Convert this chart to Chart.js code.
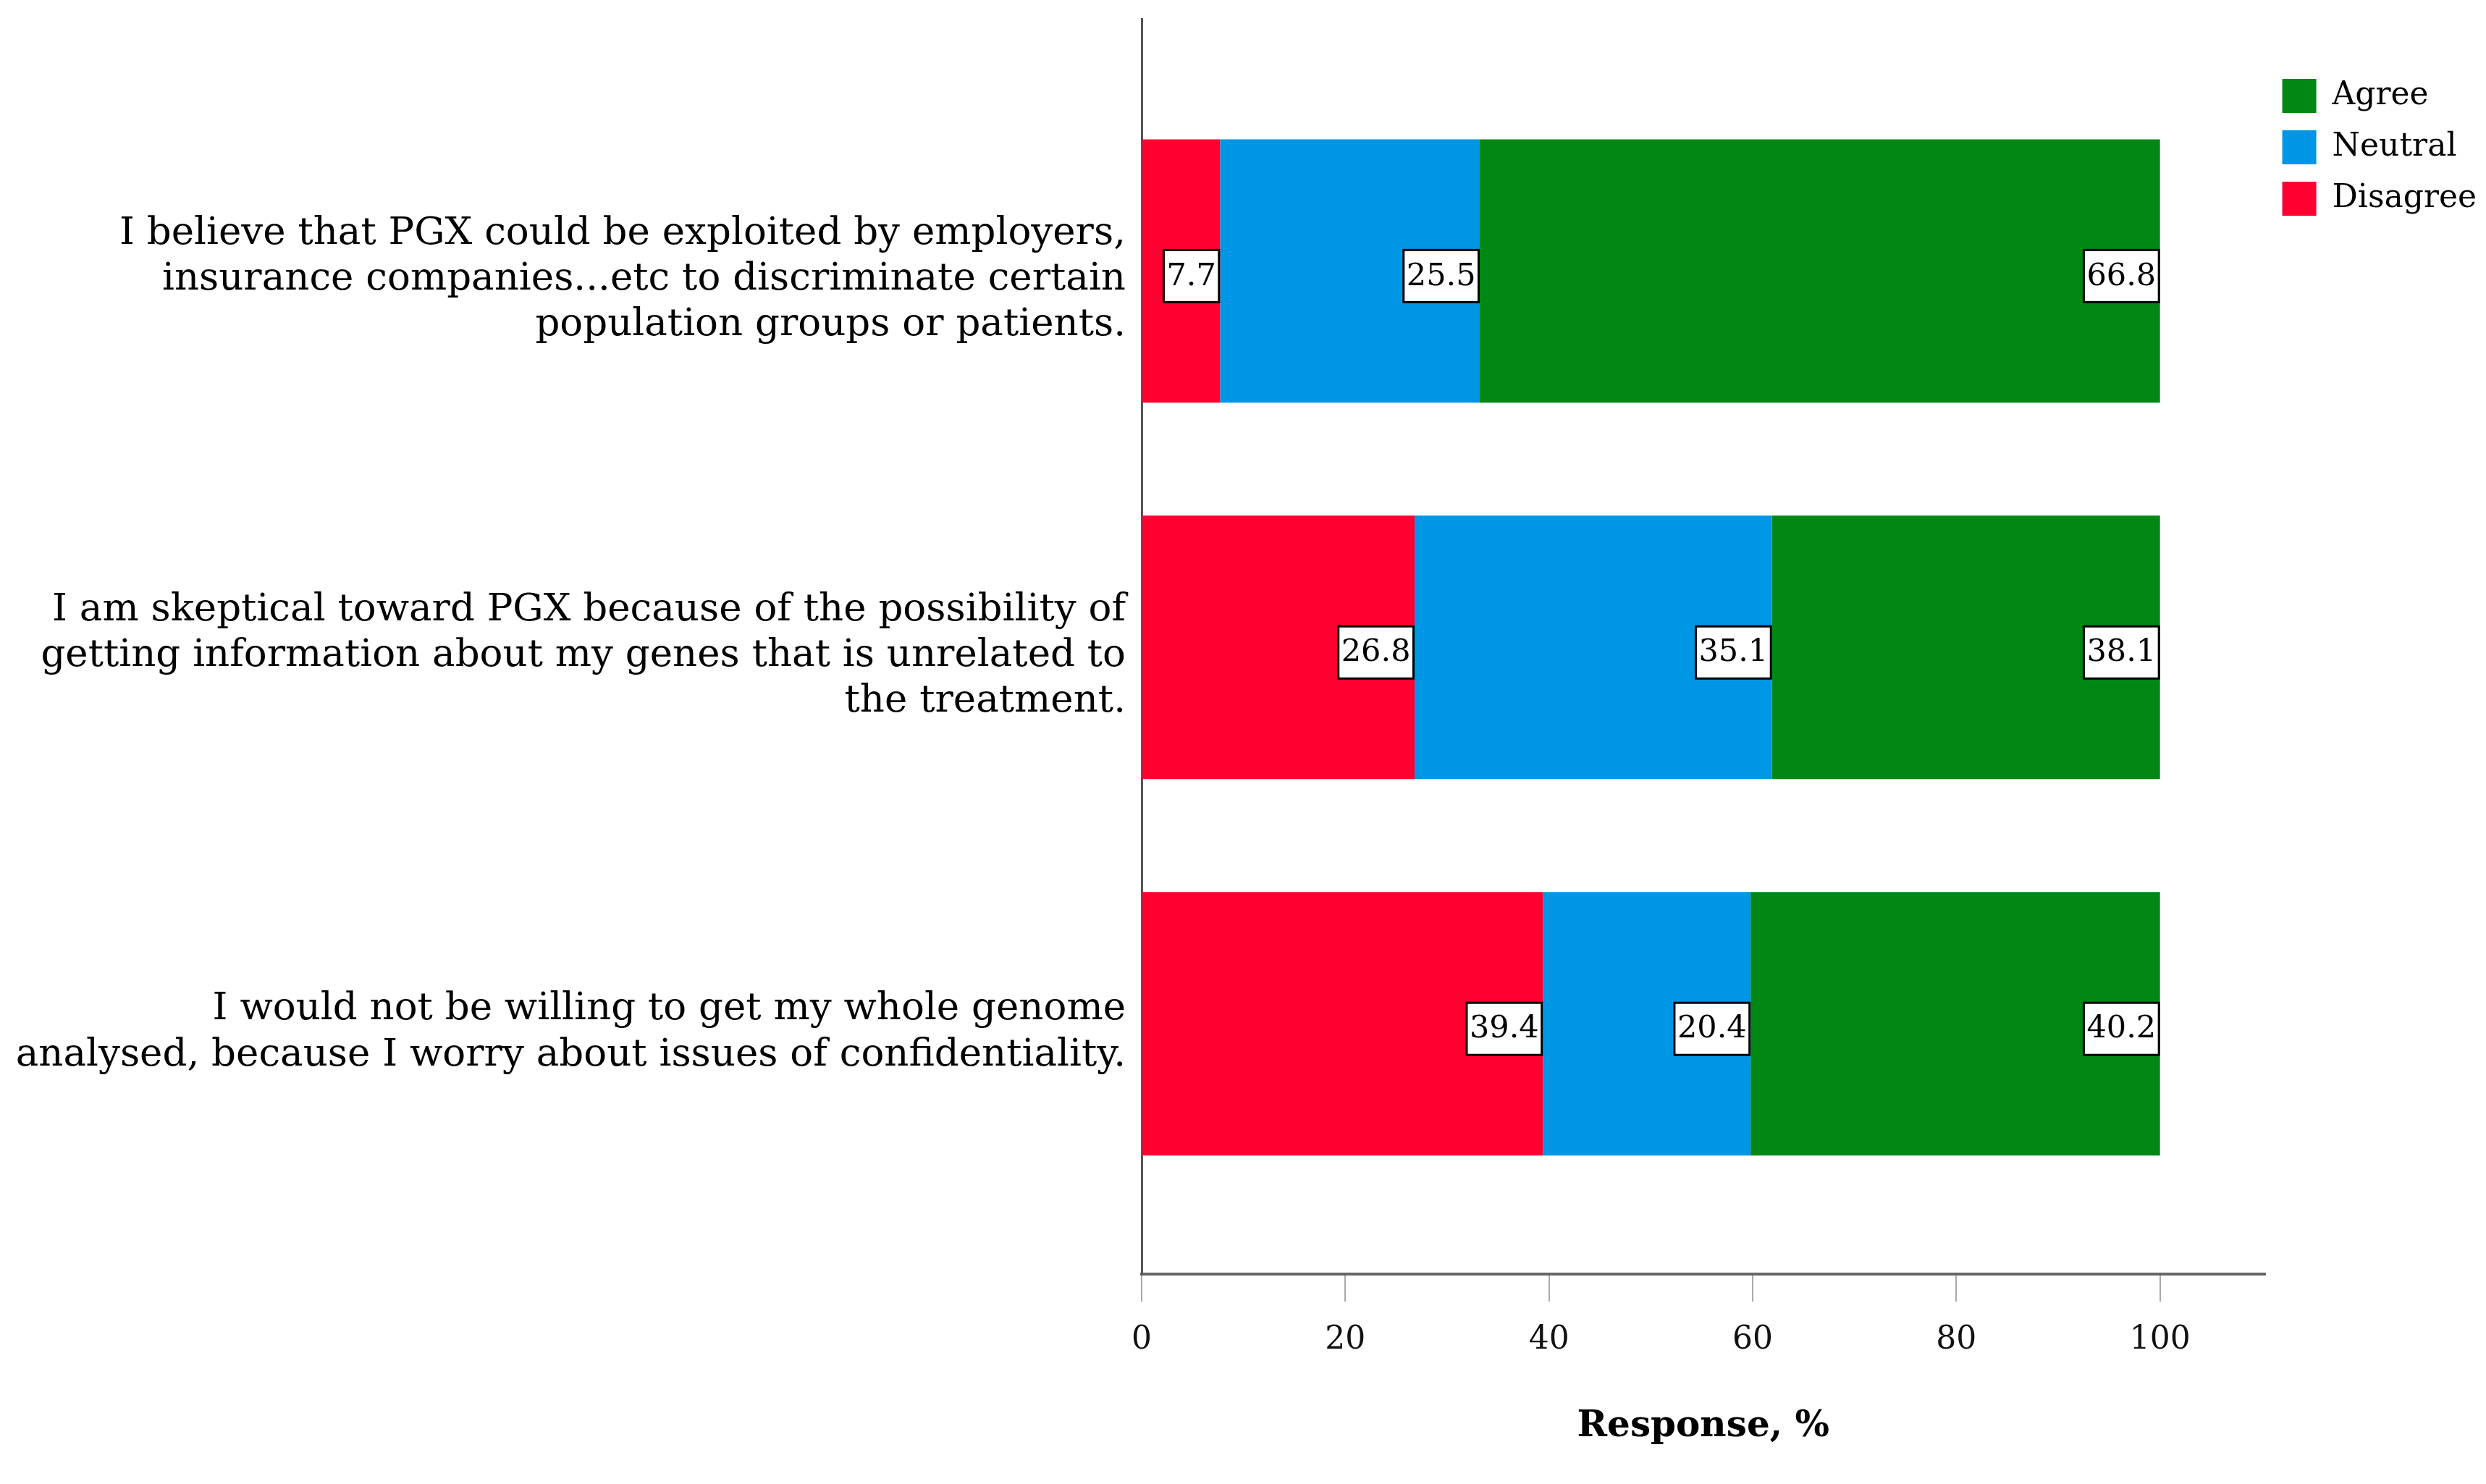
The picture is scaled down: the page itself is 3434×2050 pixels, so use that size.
<!DOCTYPE html>
<html>
<head>
<meta charset="utf-8">
<title>Attitudes toward PGX</title>
<script src="https://cdn.jsdelivr.net/npm/chart.js@4.4.1/dist/chart.umd.min.js"></script>
<style>
  html, body { margin: 0; padding: 0; background: #fff; }
  #wrap { width: 3434px; height: 2050px; position: relative; }
</style>
</head>
<body>
<div id="wrap"><canvas id="chart"></canvas></div>
<script>
// Survey statements (y categories), one line per array entry
const statements = [
  ['I believe that PGX could be exploited by employers,',
   'insurance companies...etc to discriminate certain',
   'population groups or patients.'],
  ['I am skeptical toward PGX because of the possibility of',
   'getting information about my genes that is unrelated to',
   'the treatment.'],
  ['I would not be willing to get my whole genome',
   'analysed, because I worry about issues of confidentiality.'],
];

// Response shares, %
const disagree = [7.7, 26.8, 39.4];
const neutral = [25.5, 35.1, 20.4];
const agree = [66.8, 38.1, 40.2];

const xTicks = [0, 20, 40, 60, 80, 100];

const COLORS = { agree: '#008714', neutral: '#0096e6', disagree: '#ff0030' };
const SERIF = "'DejaVu Serif', 'Liberation Serif', serif";

/**
 * Boxed value labels at the end of every segment
 */
const valueBoxes = {
  id: 'valueBoxes',
  afterDatasetsDraw(chart) {
    const ctx = chart.ctx;
    ctx.save();
    ctx.font = `43px ${SERIF}`;
    ctx.textBaseline = 'middle';
    ctx.textAlign = 'right';
    chart.data.datasets.forEach((ds, di) => {
      const meta = chart.getDatasetMeta(di);
      if (meta.hidden) return;
      meta.data.forEach((bar, i) => {
        const { x, y } = bar.getProps(['x', 'y'], true);
        const text = ds.data[i].x.toFixed(1);
        const w = ctx.measureText(text).width + 8;
        const h = 72;
        const left = x - w - 1.5;
        const top = y - h / 2 + 7;
        ctx.fillStyle = '#fff';
        ctx.fillRect(left, top, w, h);
        ctx.lineWidth = 3;
        ctx.strokeStyle = '#000';
        ctx.strokeRect(left, top, w, h);
        ctx.fillStyle = '#000';
        ctx.fillText(text, x - 5.5, top + h / 2 + 1);
      });
    });
    ctx.restore();
  },
};

const toPoints = (values) => values.map((v, i) => ({ x: v, y: i }));

const ctx = document.getElementById('chart').getContext('2d');

new Chart(ctx, {
  type: 'bar',
  data: {
    datasets: [
      { label: 'Disagree', data: toPoints(disagree), backgroundColor: COLORS.disagree },
      { label: 'Neutral', data: toPoints(neutral), backgroundColor: COLORS.neutral },
      { label: 'Agree', data: toPoints(agree), backgroundColor: COLORS.agree },
    ],
  },
  options: {
    indexAxis: 'y',
    responsive: true,
    maintainAspectRatio: false,
    animation: false,
    datasets: {
      bar: { categoryPercentage: 1, barPercentage: 0.7, borderWidth: 0 },
    },
    layout: { padding: { top: 26, right: 3, bottom: 0, left: 0 } },
    plugins: {
      legend: {
        position: 'right',
        align: 'start',
        reverse: true,
        title: { display: true, text: '', font: { size: 10, lineHeight: 1 }, padding: { top: 49, bottom: 0 } },
        labels: {
          boxWidth: 47,
          boxHeight: 47,
          padding: 24,
          color: '#000',
          font: { size: 44, family: SERIF },
        },
      },
      tooltip: { enabled: false },
    },
    scales: {
      x: {
        stacked: true,
        min: 0,
        max: 110.3,
        afterBuildTicks: (scale) => { scale.ticks = xTicks.map(v => ({ value: v })); },
        afterFit: (scale) => { scale.height = 290; },
        border: { display: true, color: '#666', width: 4 },
        grid: { drawOnChartArea: false, drawTicks: true, tickLength: 38, color: '#aaa', lineWidth: 2 },
        ticks: { padding: 27, maxRotation: 0, color: '#111', font: { size: 44, family: SERIF } },
        title: {
          display: true,
          text: 'Response, %',
          color: '#000',
          font: { size: 50, weight: 'bold', family: SERIF },
          padding: { top: 0, bottom: 49 },
        },
      },
      y: {
        type: 'linear',
        stacked: true,
        reverse: true,
        offset: false,
        min: -0.67,
        max: 2.665,
        afterBuildTicks: (scale) => { scale.ticks = statements.map((_, i) => ({ value: i })); },
        afterFit: (scale) => {
          scale.width = 1577;
          scale.paddingTop = 0;
          scale.paddingBottom = 0;
        },
        border: { display: true, color: '#555', width: 3 },
        grid: { display: false },
        ticks: {
          padding: 14,
          labelOffset: 12,
          color: '#000',
          autoSkip: false,
          font: { size: 53, family: SERIF, lineHeight: 1.19 },
          callback: (value) => statements[value],
        },
      },
    },
  },
  plugins: [valueBoxes],
});
</script>
</body>
</html>
